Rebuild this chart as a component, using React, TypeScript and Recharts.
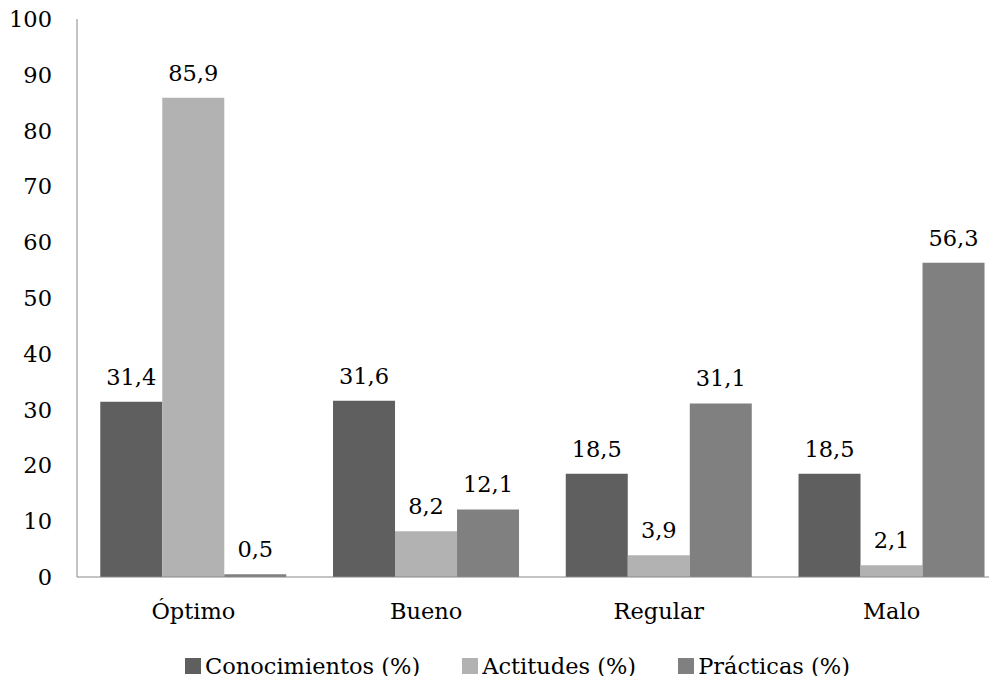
import { BarChart, Bar, XAxis, YAxis, Legend, LabelList } from "recharts";

const categories = ["Óptimo", "Bueno", "Regular", "Malo"];
const conocimientos = [31.4, 31.6, 18.5, 18.5];
const actitudes = [85.9, 8.2, 3.9, 2.1];
const practicas = [0.5, 12.1, 31.1, 56.3];
const yTicks = [0, 10, 20, 30, 40, 50, 60, 70, 80, 90, 100];

const series = [
  { key: "conocimientos", name: "Conocimientos (%)", color: "#5f5f5f" },
  { key: "actitudes", name: "Actitudes (%)", color: "#b2b2b2" },
  { key: "practicas", name: "Prácticas (%)", color: "#808080" },
];

const data = categories.map((name, i) => ({
  name,
  conocimientos: conocimientos[i],
  actitudes: actitudes[i],
  practicas: practicas[i],
}));

const FONT = "'DejaVu Serif', serif";
const fmt = (v: any) => Number(v).toFixed(1).replace(".", ",");

const CustomLegend = () => (
  <div style={{ display: "flex", alignItems: "center", height: 30, fontFamily: FONT, fontSize: 22.5, color: "#000" }}>
    {series.map((s, i) => (
      <div key={s.key} style={{ display: "flex", alignItems: "center", marginLeft: i === 0 ? 0 : 42 }}>
        <span style={{ width: 16, height: 16, backgroundColor: s.color, marginRight: 4, display: "inline-block" }} />
        <span style={{ lineHeight: "30px", whiteSpace: "nowrap" }}>{s.name}</span>
      </div>
    ))}
  </div>
);

export default function App() {
  return (
    <div style={{ margin: -8, width: 997, height: 684, overflow: "hidden", position: "relative", background: "#fff", fontFamily: FONT }}>
      <BarChart
        width={1040}
        height={684}
        data={data}
        margin={{ top: 19, right: 32, bottom: 0, left: 0 }}
        barCategoryGap="10%"
        barGap={0}
        style={{ fontFamily: FONT }}
      >
        <XAxis
          dataKey="name"
          height={107}
          tickSize={0}
          tickMargin={26}
          tickLine={false}
          stroke="#888888"
          tick={{ fill: "#000", fontSize: 22.5, fontFamily: FONT }}
        />
        <YAxis
          width={77}
          domain={[0, 100]}
          ticks={yTicks}
          interval={0}
          tickSize={0}
          tickMargin={25}
          tickLine={false}
          stroke="#888888"
          tick={{ fill: "#000", fontSize: 22.5, fontFamily: FONT }}
        />
        <Legend
          layout="horizontal"
          verticalAlign="middle"
          align="center"
          content={<CustomLegend />}
          wrapperStyle={{ top: 651, left: 185, width: 800, height: 30 }}
        />
        {series.map((s) => (
          <Bar key={s.key} dataKey={s.key} name={s.name} fill={s.color} isAnimationActive={false}>
            <LabelList
              dataKey={s.key}
              position="top"
              offset={17}
              formatter={fmt}
              style={{ fill: "#000", fontSize: 22.5, fontFamily: FONT }}
            />
          </Bar>
        ))}
      </BarChart>
    </div>
  );
}
